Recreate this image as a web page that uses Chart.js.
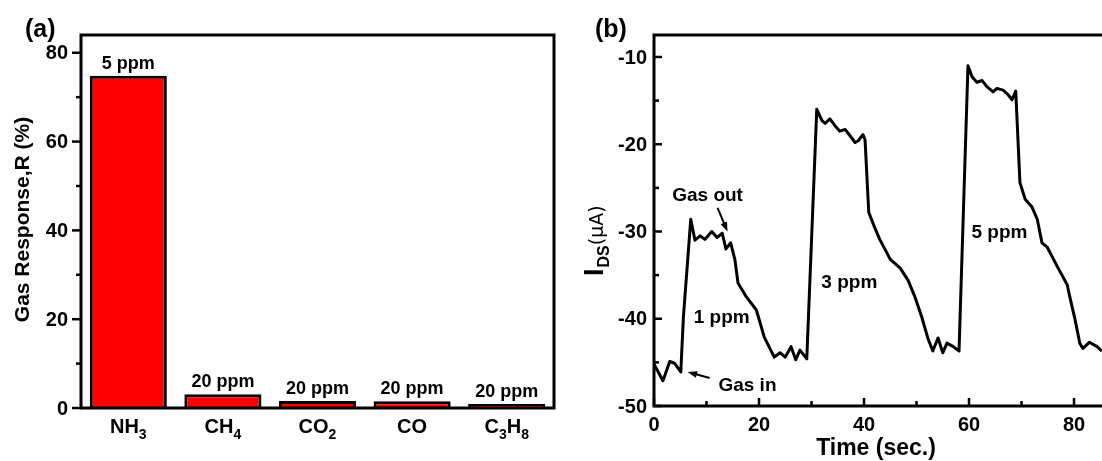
<!DOCTYPE html>
<html>
<head>
<meta charset="utf-8">
<script src="https://cdn.jsdelivr.net/npm/chart.js@4.4.1/dist/chart.umd.min.js"></script>
<style>
  html, body { margin: 0; padding: 0; background: #fff; }
  #wrap { position: relative; width: 1102px; height: 461px; overflow: hidden; }
  canvas { position: absolute; top: 0; }
</style>
</head>
<body>
<div id="wrap">
  <canvas id="barChart" width="560" height="461" style="left:0"></canvas>
  <canvas id="lineChart" width="542" height="461" style="left:560px"></canvas>
</div>
<script>
// (a) gas response of the sensor
const gases = ['NH3', 'CH4', 'CO2', 'CO', 'C3H8'];
const responses = [74.8, 3.1, 1.6, 1.5, 0.9];
const concentrations = ['5 ppm', '20 ppm', '20 ppm', '20 ppm', '20 ppm'];
const responseTicks = [0, 20, 40, 60, 80];
const responseMinor = [10, 30, 50, 70];

// (b) drain current vs time
const timeSec = [
  0, 1.7, 3.0, 3.9, 5.1, 5.6, 7.0, 7.8, 8.8, 9.7, 11.0, 12.0, 13.0, 13.7, 14.6,
  15.4, 16.0, 17.6, 19.5, 21.0, 22.9, 24.0, 25.0, 26.1, 27.0, 27.8, 29.1,
  31.0, 32.0, 32.6, 33.5, 34.5, 35.4, 36.4, 37.3, 38.3, 38.9, 39.8, 40.2, 40.9,
  42.0, 43.0, 45.0, 46.9, 48.4, 49.7, 51.0, 52.2, 53.1, 54.1, 55.0, 55.8, 57.0, 58.1,
  59.8, 60.6, 61.5, 62.5, 63.4, 64.6, 65.3, 66.5, 67.4, 68.2, 68.9, 69.7, 70.7,
  72.0, 73.0, 73.9, 74.9, 76.8, 78.7, 79.2, 80.2, 81.1, 81.7, 82.9, 84.4, 85.3
];
const currentUA = [
  -45.2, -47.1, -44.9, -45.1, -46.1, -39.8, -28.6, -31.0, -30.5, -30.9, -30.0, -30.7, -30.2, -32.0, -31.3,
  -33.2, -35.9, -37.5, -39.0, -42.1, -44.4, -43.9, -44.4, -43.2, -44.7, -43.6, -44.6,
  -16.0, -17.3, -17.6, -17.1, -17.9, -18.5, -18.3, -19.0, -19.8, -19.6, -18.9, -19.5, -27.8,
  -29.5, -30.9, -33.2, -34.2, -35.6, -37.5, -39.8, -42.3, -43.7, -42.2, -43.9, -42.8, -43.2, -43.7,
  -11.0, -12.3, -12.9, -12.7, -13.4, -14.0, -13.6, -13.8, -14.3, -14.9, -13.9, -24.4, -26.3,
  -27.2, -28.6, -31.3, -31.8, -34.0, -36.1, -37.5, -40.1, -42.8, -43.4, -42.7, -43.2, -43.7
];
const timeTicks = [0, 20, 40, 60, 80];
const timeMinor = [10, 30, 50, 70];
const currentTicks = [-10, -20, -30, -40, -50];
const currentMinor = [-15, -25, -35, -45];

// text notes on panel (b), placed in data units
const notes = [
  { text: 'Gas out', t: 10.2, i: -25.9 },
  { text: '1 ppm', t: 12.9, i: -39.9 },
  { text: 'Gas in', t: 17.8, i: -47.7 },
  { text: '3 ppm', t: 37.2, i: -35.9 },
  { text: '5 ppm', t: 65.8, i: -30.2 }
];
const arrows = [
  { from: [12.1, -27.3], to: [14.0, -30.0] },
  { from: [10.6, -46.8], to: [6.4, -46.1] }
];

const FONT = '"Liberation Sans", Arial, sans-serif';

function tick(ctx, x1, y1, x2, y2) {
  ctx.beginPath();
  ctx.moveTo(x1, y1);
  ctx.lineTo(x2, y2);
  ctx.stroke();
}

// chemical formula, digits drawn as subscripts
function drawFormula(ctx, label, cx, baseY, size) {
  const parts = label.match(/[A-Za-z]+|\d+/g);
  const big = `bold ${size}px ${FONT}`;
  const small = `bold ${Math.round(size * 0.72)}px ${FONT}`;
  let w = 0;
  parts.forEach(p => { ctx.font = /\d/.test(p) ? small : big; w += ctx.measureText(p).width; });
  let x = cx - w / 2;
  ctx.textAlign = 'left';
  ctx.textBaseline = 'alphabetic';
  parts.forEach(p => {
    const sub = /\d/.test(p);
    ctx.font = sub ? small : big;
    ctx.fillText(p, x, baseY + (sub ? size * 0.3 : 0));
    x += ctx.measureText(p).width;
  });
}

function drawArrow(ctx, x1, y1, x2, y2) {
  const ang = Math.atan2(y2 - y1, x2 - x1);
  ctx.lineWidth = 2;
  tick(ctx, x1, y1, x2 - 6 * Math.cos(ang), y2 - 6 * Math.sin(ang));
  ctx.beginPath();
  ctx.moveTo(x2, y2);
  ctx.lineTo(x2 - 10 * Math.cos(ang - 0.35), y2 - 10 * Math.sin(ang - 0.35));
  ctx.lineTo(x2 - 10 * Math.cos(ang + 0.35), y2 - 10 * Math.sin(ang + 0.35));
  ctx.closePath();
  ctx.fill();
}

const panelA = {
  id: 'panelA',
  afterDraw(chart) {
    const { ctx, chartArea: a, scales: { x, y } } = chart;
    ctx.save();
    ctx.strokeStyle = '#000';
    ctx.fillStyle = '#000';
    ctx.lineWidth = 3;
    ctx.strokeRect(a.left, a.top, a.right - a.left, a.bottom - a.top);

    ctx.lineWidth = 2.5;
    ctx.font = `bold 20px ${FONT}`;
    ctx.textAlign = 'right';
    ctx.textBaseline = 'middle';
    responseTicks.forEach(v => {
      const py = y.getPixelForValue(v);
      tick(ctx, a.left - 9, py, a.left, py);
      ctx.fillText(String(v), a.left - 13, py + 1);
    });
    responseMinor.forEach(v => {
      const py = y.getPixelForValue(v);
      tick(ctx, a.left - 5, py, a.left, py);
    });

    gases.forEach((g, i) => drawFormula(ctx, g, x.getPixelForValue(i), 433, 20));

    ctx.font = `bold 18px ${FONT}`;
    ctx.textAlign = 'center';
    ctx.textBaseline = 'alphabetic';
    chart.getDatasetMeta(0).data.forEach((bar, i) => {
      ctx.fillText(concentrations[i], bar.x, bar.y - 7);
    });

    ctx.save();
    ctx.translate(29, (a.top + a.bottom) / 2 - 2);
    ctx.rotate(-Math.PI / 2);
    ctx.font = `bold 21px ${FONT}`;
    ctx.fillText('Gas Response,R (%)', 0, 0);
    ctx.restore();

    ctx.font = `bold 25px ${FONT}`;
    ctx.textAlign = 'left';
    ctx.fillText('(a)', 25, 37);
    ctx.restore();
  }
};

const panelB = {
  id: 'panelB',
  afterDraw(chart) {
    const { ctx, chartArea: a, scales: { x, y } } = chart;
    ctx.save();
    ctx.strokeStyle = '#000';
    ctx.fillStyle = '#000';
    ctx.lineWidth = 3;
    ctx.beginPath();
    ctx.moveTo(a.right + 2, a.top);
    ctx.lineTo(a.left, a.top);
    ctx.lineTo(a.left, a.bottom);
    ctx.lineTo(a.right + 2, a.bottom);
    ctx.stroke();

    ctx.lineWidth = 2.5;
    ctx.font = `bold 20px ${FONT}`;
    ctx.textAlign = 'right';
    ctx.textBaseline = 'middle';
    currentTicks.forEach(v => {
      const py = y.getPixelForValue(v);
      tick(ctx, a.left, py, a.left + 8, py);
      ctx.fillText(String(v), a.left - 7, py + 1);
    });
    currentMinor.forEach(v => {
      const py = y.getPixelForValue(v);
      tick(ctx, a.left, py, a.left + 5, py);
    });
    ctx.textAlign = 'center';
    ctx.textBaseline = 'alphabetic';
    timeTicks.forEach(v => {
      const px = x.getPixelForValue(v);
      tick(ctx, px, a.bottom, px, a.bottom - 8);
      ctx.fillText(String(v), px, 431);
    });
    timeMinor.forEach(v => {
      const px = x.getPixelForValue(v);
      tick(ctx, px, a.bottom, px, a.bottom - 5);
    });

    ctx.font = `bold 23px ${FONT}`;
    ctx.fillText('Time (sec.)', 316, 455);

    // I_DS (uA) title, running upward
    ctx.save();
    ctx.translate(43, 276);
    ctx.rotate(-Math.PI / 2);
    ctx.textAlign = 'left';
    let cx = 0;
    ctx.font = `bold 27px ${FONT}`;
    ctx.fillText('I', cx, 0);
    cx += ctx.measureText('I').width + 1;
    ctx.font = `bold 16px ${FONT}`;
    ctx.fillText('DS', cx, 6);
    cx += ctx.measureText('DS').width;
    ctx.font = `19px "DejaVu Sans", sans-serif`;
    ctx.fillText('(\u03BCA)', cx, 0);
    ctx.restore();

    ctx.font = `bold 19px ${FONT}`;
    ctx.textAlign = 'center';
    ctx.textBaseline = 'middle';
    notes.forEach(n => ctx.fillText(n.text, x.getPixelForValue(n.t), y.getPixelForValue(n.i)));
    arrows.forEach(ar => drawArrow(ctx,
      x.getPixelForValue(ar.from[0]), y.getPixelForValue(ar.from[1]),
      x.getPixelForValue(ar.to[0]), y.getPixelForValue(ar.to[1])));

    ctx.font = `bold 25px ${FONT}`;
    ctx.textAlign = 'left';
    ctx.textBaseline = 'alphabetic';
    ctx.fillText('(b)', 35, 37);
    ctx.restore();
  }
};

new Chart(document.getElementById('barChart'), {
  type: 'bar',
  data: {
    labels: gases,
    datasets: [{
      data: responses,
      backgroundColor: '#ff0000',
      borderColor: '#000',
      borderWidth: 3,
      borderSkipped: 'bottom',
      categoryPercentage: 1,
      barPercentage: 0.815
    }]
  },
  options: {
    responsive: false,
    animation: false,
    devicePixelRatio: 1,
    layout: { padding: { left: 81, right: 6, top: 35, bottom: 53 } },
    plugins: { legend: { display: false }, tooltip: { enabled: false } },
    scales: {
      x: { display: false },
      y: { display: false, min: 0, max: 84 }
    }
  },
  plugins: [panelA]
});

new Chart(document.getElementById('lineChart'), {
  type: 'line',
  data: {
    datasets: [{
      data: timeSec.map((t, i) => ({ x: t, y: currentUA[i] })),
      borderColor: '#000',
      borderWidth: 3,
      borderJoinStyle: 'round',
      pointRadius: 0,
      tension: 0,
      fill: false
    }]
  },
  options: {
    responsive: false,
    animation: false,
    devicePixelRatio: 1,
    layout: { padding: { left: 94, right: 0, top: 35, bottom: 55 } },
    plugins: { legend: { display: false }, tooltip: { enabled: false } },
    scales: {
      x: { type: 'linear', display: false, min: 0, max: 85.33 },
      y: { display: false, min: -50, max: -7.48 }
    }
  },
  plugins: [panelB]
});
</script>
</body>
</html>
